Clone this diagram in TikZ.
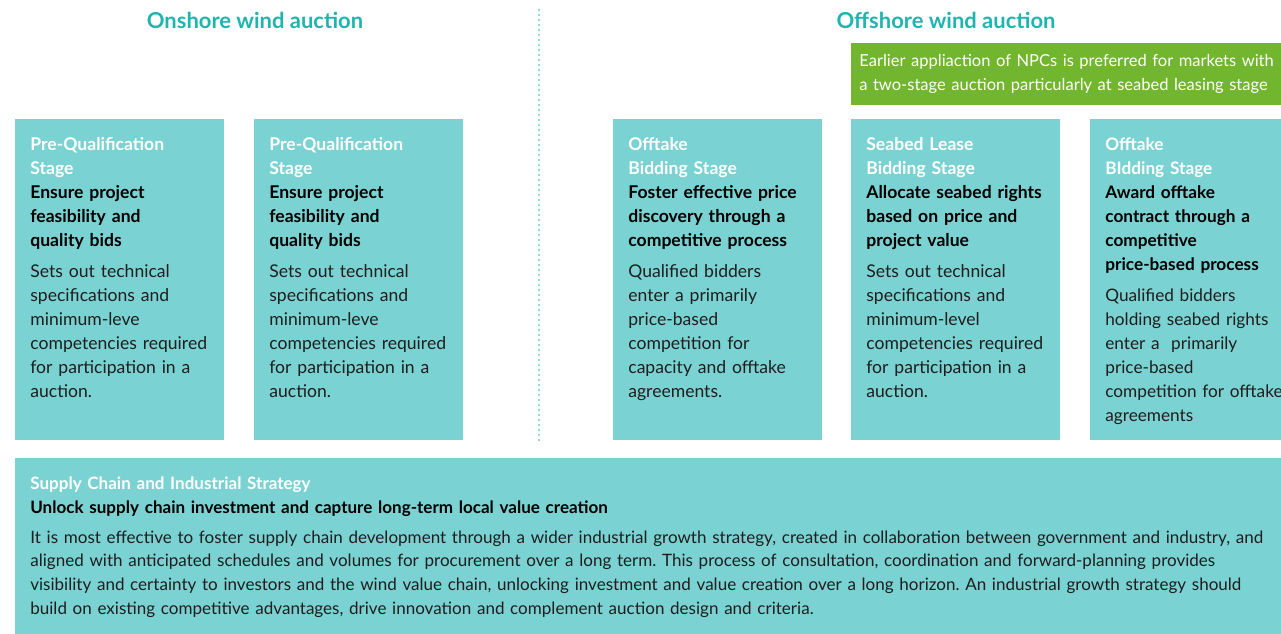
\documentclass[tikz,border=0pt]{standalone}
\usepackage{fontspec}
\setmainfont{Lato}
\frenchspacing
\usetikzlibrary{positioning}

\definecolor{boxteal}{HTML}{7AD2D2}
\definecolor{headteal}{HTML}{1FB5AF}
\definecolor{notegreen}{HTML}{72B52E}
\definecolor{bodytext}{HTML}{1E1E1E}

\tikzstyle{stage} = [
    rectangle,
    fill=boxteal,
    anchor=north west,
    minimum width=4.18cm,
    minimum height=6.42cm,
    inner sep=0pt
]
\tikzstyle{stagetext} = [
    anchor=north west,
    inner sep=0pt,
    text width=4.1cm,
    align=left,
    text=bodytext,
    font=\fontsize{10pt}{0.48cm}\selectfont
]
\tikzstyle{heading} = [inner sep=0pt, text=headteal, font=\fontsize{12.5pt}{15pt}\selectfont\bfseries]
\tikzstyle{note}    = [rectangle, fill=notegreen, anchor=north west, minimum width=8.98cm, minimum height=1.24cm, inner sep=0pt]
\tikzstyle{divider} = [draw=boxteal!80!headteal, line width=0.045cm, line cap=round, dash pattern=on 0pt off 0.1cm]
\newcommand{\stagename}[1]{{\color{white}\bfseries #1}}
\newcommand{\aim}[1]{{\color{black}\bfseries #1}}

\begin{document}
\begin{tikzpicture}[x=0.02cm, y=-0.02cm]

\path[use as bounding box, clip] (0,0) rectangle (1281,634);

\node[heading] (onshore)  at (255,20) {Onshore wind auction};
\node[heading] (offshore) at (946,20) {Offshore wind auction};

\coordinate (divtop) at (539,10);
\coordinate (divbot) at (539,440);
\draw[divider] (divtop) -- (divbot);

\node[note] (npc) at (851,43) {};
\node[stagetext, text width=9cm, text=white, font=\fontsize{9.4pt}{0.48cm}\selectfont] (npctext) at (859,54)
{Earlier appliaction of NPCs is preferred for markets with\\
a two-stage auction particularly at seabed leasing stage};

% onshore
\node[stage] (preq1) at (15,119)  {};
\node[stage] (preq2) at (254,119) {};

\node[stagetext] (preq1text) at (30,137)
{\stagename{Pre-Qualification\\Stage}\\
\aim{Ensure project\\feasibility and\\quality bids}\\[0.14cm]
Sets out technical\\specifications and\\minimum-leve\\competencies required\\for participation in a\\auction.};

\node[stagetext] (preq2text) at (269,137)
{\stagename{Pre-Qualification\\Stage}\\
\aim{Ensure project\\feasibility and\\quality bids}\\[0.14cm]
Sets out technical\\specifications and\\minimum-leve\\competencies required\\for participation in a\\auction.};

% offshore
\node[stage] (offtake1) at (613,119)  {};
\node[stage] (seabed)   at (851,119)  {};
\node[stage] (offtake2) at (1090,119) {};

\node[stagetext] (offtake1text) at (628,137)
{\stagename{Offtake\\Bidding Stage}\\
\aim{Foster effective price\\discovery through a\\competitive process}\\[0.14cm]
Qualified bidders\\enter a primarily\\price-based\\competition for\\capacity and offtake\\agreements.};

\node[stagetext] (seabedtext) at (866,137)
{\stagename{Seabed Lease\\Bidding Stage}\\
\aim{Allocate seabed rights\\based on price and\\project value}\\[0.14cm]
Sets out technical\\specifications and\\minimum-level\\competencies required\\for participation in a\\auction.};

\node[stagetext, font=\fontsize{9.8pt}{0.48cm}\selectfont] (offtake2text) at (1105,137)
{\stagename{Offtake\\BIdding Stage}\\
\aim{Award offtake\\contract through a\\competitive\\price-based process}\\[0.14cm]
Qualified bidders\\holding seabed rights\\enter a\ \ primarily\\price-based\\competition for offtake\\agreements};

% supply chain
\node[stage, minimum width=25.7cm, minimum height=4cm] (supply) at (15,458) {};
\node[stagetext, text width=25cm, font=\fontsize{9.7pt}{0.48cm}\selectfont] (supplytext) at (30,476)
{\stagename{Supply Chain and Industrial Strategy}\\
\aim{Unlock supply chain investment and capture long-term local value creation}\\[0.12cm]
It is most effective to foster supply chain development through a wider industrial growth strategy, created in collaboration between government and industry, and\\
aligned with anticipated schedules and volumes for procurement over a long term. This process of consultation, coordination and forward-planning provides\\
visibility and certainty to investors and the wind value chain, unlocking investment and value creation over a long horizon. An industrial growth strategy should\\
build on existing competitive advantages, drive innovation and complement auction design and criteria.};

\end{tikzpicture}
\end{document}
